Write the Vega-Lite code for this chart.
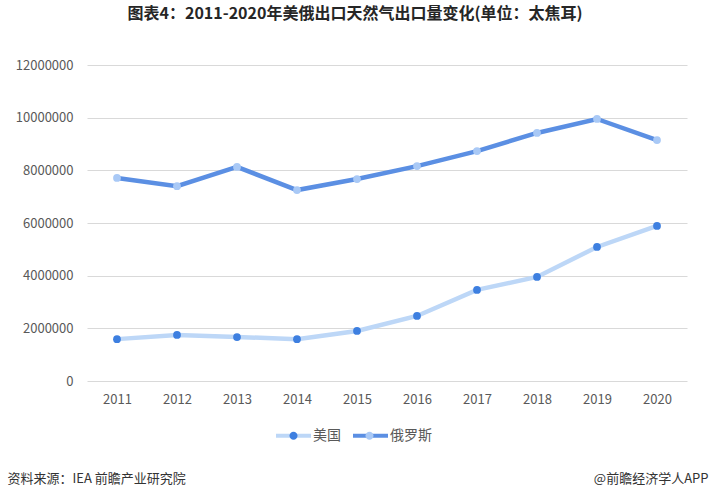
{
  "$schema": "https://vega.github.io/schema/vega-lite/v6.json",
  "width": 600,
  "height": 316,
  "autosize": {"type": "none"},
  "padding": {"left": 87, "top": 65, "right": 24, "bottom": 119},
  "background": "white",
  "title": {
    "text": "图表4：2011-2020年美俄出口天然气出口量变化(单位：太焦耳)",
    "anchor": "middle",
    "frame": "group",
    "dx": -32,
    "offset": 37,
    "fontSize": 16,
    "fontWeight": "bold",
    "color": "#262626",
    "font": "Noto Sans CJK SC"
  },
  "config": {"font": "Noto Sans CJK SC", "view": {"stroke": null}},
  "data": {
    "values": [
      {"年份": "2011", "国家": "美国", "出口量": 1590000},
      {"年份": "2012", "国家": "美国", "出口量": 1750000},
      {"年份": "2013", "国家": "美国", "出口量": 1670000},
      {"年份": "2014", "国家": "美国", "出口量": 1590000},
      {"年份": "2015", "国家": "美国", "出口量": 1900000},
      {"年份": "2016", "国家": "美国", "出口量": 2470000},
      {"年份": "2017", "国家": "美国", "出口量": 3460000},
      {"年份": "2018", "国家": "美国", "出口量": 3950000},
      {"年份": "2019", "国家": "美国", "出口量": 5090000},
      {"年份": "2020", "国家": "美国", "出口量": 5890000},
      {"年份": "2011", "国家": "俄罗斯", "出口量": 7710000},
      {"年份": "2012", "国家": "俄罗斯", "出口量": 7400000},
      {"年份": "2013", "国家": "俄罗斯", "出口量": 8130000},
      {"年份": "2014", "国家": "俄罗斯", "出口量": 7250000},
      {"年份": "2015", "国家": "俄罗斯", "出口量": 7670000},
      {"年份": "2016", "国家": "俄罗斯", "出口量": 8160000},
      {"年份": "2017", "国家": "俄罗斯", "出口量": 8730000},
      {"年份": "2018", "国家": "俄罗斯", "出口量": 9420000},
      {"年份": "2019", "国家": "俄罗斯", "出口量": 9950000},
      {"年份": "2020", "国家": "俄罗斯", "出口量": 9150000}
    ]
  },
  "encoding": {
    "x": {
      "field": "年份",
      "type": "ordinal",
      "scale": {"type": "point", "padding": 0.5},
      "axis": {
        "title": "资料来源：IEA 前瞻产业研究院",
        "titleX": -80,
        "titleY": 97,
        "titleAlign": "left",
        "titleAnchor": null,
        "titleBaseline": "middle",
        "titleFontSize": 13,
        "titleFontWeight": "normal",
        "titleColor": "#333333",
        "labelAngle": 0,
        "labelFontSize": 13,
        "labelColor": "#595959",
        "labelPadding": 12,
        "ticks": false,
        "domain": false,
        "grid": false
      }
    },
    "y": {
      "field": "出口量",
      "type": "quantitative",
      "scale": {"domain": [0, 12000000]},
      "axis": {
        "title": "@前瞻经济学人APP",
        "titleAngle": 0,
        "titleX": 621,
        "titleY": 413,
        "titleAlign": "right",
        "titleAnchor": null,
        "titleBaseline": "middle",
        "titleFontSize": 13,
        "titleFontWeight": "normal",
        "titleColor": "#333333",
        "values": [0, 2000000, 4000000, 6000000, 8000000, 10000000, 12000000],
        "format": "d",
        "labelFontSize": 13,
        "labelColor": "#595959",
        "labelPadding": 14,
        "ticks": false,
        "domain": false,
        "gridColor": "#D9D9D9",
        "gridWidth": 1
      }
    }
  },
  "layer": [
    {
      "mark": {"type": "line", "strokeWidth": 4.5},
      "encoding": {
        "color": {
          "field": "国家",
          "type": "nominal",
          "scale": {"domain": ["美国", "俄罗斯"], "range": ["#BDD7F7", "#5B8FE3"]},
          "legend": {
            "orient": "none",
            "legendX": 187,
            "legendY": 351,
            "direction": "horizontal",
            "title": null,
            "symbolType": "stroke",
            "symbolSize": 1225,
            "symbolStrokeWidth": 4,
            "labelFontSize": 14,
            "labelColor": "#595959",
            "labelOffset": 0,
            "columnPadding": 4,
            "padding": 0
          }
        }
      }
    },
    {
      "mark": {"type": "circle", "size": 60, "opacity": 1},
      "encoding": {
        "fill": {
          "field": "国家",
          "type": "nominal",
          "scale": {"domain": ["俄罗斯", "美国"], "range": ["#A9C9F6", "#3D7FE0"]},
          "legend": {
            "orient": "none",
            "legendX": 187,
            "legendY": 351,
            "direction": "horizontal",
            "title": null,
            "values": ["美国", "俄罗斯"],
            "symbolType": "M -0.23 0 A 0.23 0.23 0 1 0 0.23 0 A 0.23 0.23 0 1 0 -0.23 0 Z",
            "symbolSize": 1225,
            "symbolStrokeWidth": 4,
            "symbolStrokeColor": "transparent",
            "symbolOpacity": 1,
            "labelFontSize": 14,
            "labelExpr": "''",
            "labelOffset": 0,
            "columnPadding": 37,
            "padding": 0
          }
        }
      }
    }
  ]
}
